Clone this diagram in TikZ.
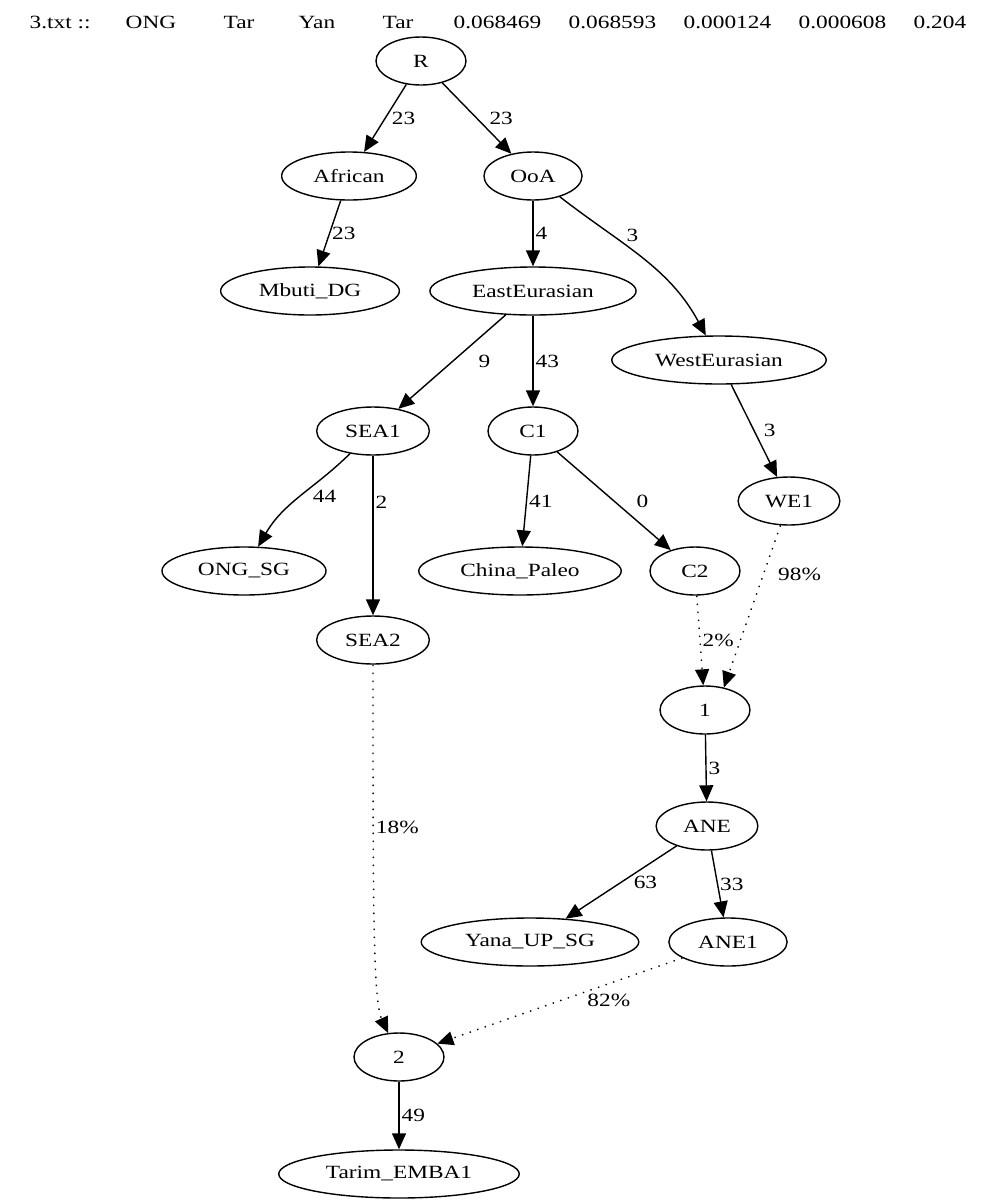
\documentclass[tikz,border=0pt]{standalone}
\usepackage{fontspec}
\setmainfont{Liberation Serif}[FakeStretch=1.25]
\usetikzlibrary{shapes.geometric, arrows.meta}

\begin{document}
\begin{tikzpicture}[x=0.5pt, y=-0.5pt, line width=0.7pt,
        popnode/.style={ellipse, draw=black, inner xsep=6pt, inner ysep=2pt, minimum width=45pt, minimum height=24pt, font=\fontsize{9.33}{11}\selectfont},
        drift/.style={-{Triangle[length=8pt, width=7pt]}},
        admix/.style={drift, dash pattern=on 0.7pt off 3.3pt},
        wlabel/.style={inner sep=1pt, font=\fontsize{9.33}{11}\selectfont}]
    \useasboundingbox (0,0) rectangle (1000,1200);

    % header line
    \foreach \x/\t [count=\i] in {29/3.txt ::, 125/ONG, 223/Tar, 298/Yan, 382/Tar, 453/0.068469, 568/0.068593, 683/0.000124, 798/0.000608, 913/0.204}
        \node[wlabel, inner sep=0pt, anchor=base west, name=head\i] at (\x,28) {\t};

    \node[popnode, name=R] at (421,61) {R};

    \node[popnode, name=African] at (349,176) {African};
    \node[popnode, name=OoA] at (533,176) {OoA};

    \node[popnode, name=Mbuti] at (310,291) {Mbuti\_DG};
    \node[popnode, name=EastEurasian] at (533,291) {EastEurasian};
    \node[popnode, name=WestEurasian] at (719,360) {WestEurasian};

    \node[popnode, name=SEA1] at (373,431) {SEA1};
    \node[popnode, name=C1] at (533,431) {C1};
    \node[popnode, name=WE1] at (789,501) {WE1};

    \node[popnode, name=ONG] at (244,571) {ONG\_SG};
    \node[popnode, name=China] at (520,571) {China\_Paleo};
    \node[popnode, name=C2] at (695,571) {C2};
    \node[popnode, name=SEA2] at (373,640) {SEA2};

    \node[popnode, name=mix1] at (705,710) {1};
    \node[popnode, name=ANE] at (707,826) {ANE};
    \node[popnode, name=Yana] at (530,942) {Yana\_UP\_SG};
    \node[popnode, name=ANE1] at (728,942) {ANE1};

    \node[popnode, name=mix2] at (399,1057) {2};
    \node[popnode, name=Tarim] at (399,1174) {Tarim\_EMBA1};

    % drift edges
    \draw[drift] (R) -- (African) node[wlabel, midway, right, xshift=2pt] (wRAf) {23};
    \draw[drift] (R) -- (OoA) node[wlabel, midway, right, xshift=5pt] (wROoA) {23};
    \draw[drift] (African) -- (Mbuti) node[wlabel, midway, right] (wAfMb) {23};
    \draw[drift] (OoA) -- (EastEurasian) node[wlabel, midway, right] (wOoAEE) {4};
    \draw[drift] (OoA) .. controls (622,245) and (669,267) .. (WestEurasian) node[wlabel, pos=0.3, right, xshift=6pt] (wOoAWE) {3};
    \draw[drift] (EastEurasian) -- (SEA1) node[wlabel, midway, right, xshift=12pt] (wEESEA) {9};
    \draw[drift] (EastEurasian) -- (C1) node[wlabel, midway, right] (wEEC1) {43};
    \draw[drift] (WestEurasian) -- (WE1) node[wlabel, midway, right, xshift=3.5pt] (wWEWE1) {3};
    \draw[drift] (SEA1) .. controls (314,489) and (284,502) .. (ONG) node[wlabel, pos=0.5, right, xshift=5pt] (wSEAONG) {44};
    \draw[drift] (SEA1) -- (SEA2) node[wlabel, pos=0.29, right] (wSEASEA) {2};
    \draw[drift] (C1) -- (China) node[wlabel, midway, right] (wC1Ch) {41};
    \draw[drift] (C1) -- (C2) node[wlabel, midway, right, xshift=10pt] (wC1C2) {0};
    \draw[drift] (mix1) -- (ANE) node[wlabel, midway, right] (wmixANE) {3};
    \draw[drift] (ANE) -- (Yana) node[wlabel, midway, right, xshift=5pt] (wANEYa) {63};
    \draw[drift] (ANE) -- (ANE1) node[wlabel, midway, right] (wANEANE) {33};
    \draw[drift] (mix2) -- (Tarim) node[wlabel, midway, right] (wmixTa) {49};

    % admixture edges
    \draw[admix] (WE1) -- (mix1.50) node[wlabel, pos=0.3, right, xshift=6pt] (aWE1) {98\%};
    \draw[admix] (C2) -- (mix1) node[wlabel, midway, right] (aC2) {2\%};
    \draw[admix] (SEA2) .. controls (373,900) and (373,1000) .. (mix2) node[wlabel, pos=0.27, right] (aSEA2) {18\%};
    \draw[admix] (ANE1) -- (mix2) node[wlabel, pos=0.3, below=4pt] (aANE1) {82\%};
\end{tikzpicture}
\end{document}
